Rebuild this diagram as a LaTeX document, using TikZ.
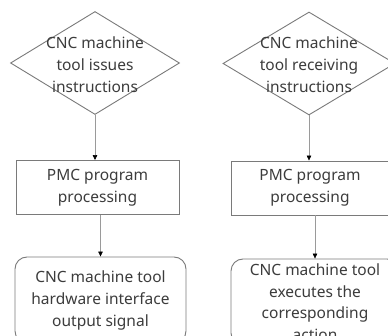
\documentclass[tikz,border=0pt]{standalone}
\usepackage{fontspec}
\setmainfont{Noto Sans}
\usetikzlibrary{shapes.geometric,arrows.meta}
\definecolor{edgegray}{HTML}{7A7A7A}
\definecolor{linkgray}{HTML}{9A9A9A}
\definecolor{inkgray}{HTML}{3C3C3C}
\tikzset{
  txt/.style={text=inkgray, align=center, inner sep=0pt,
    font=\fontsize{15.5}{22}\selectfont},
  decision/.style={draw=edgegray, line width=0.9pt, shape=diamond,
    inner sep=0pt, minimum width=#1, minimum height=103pt},
  procbox/.style={draw=edgegray, line width=0.9pt, rectangle,
    minimum width=#1, minimum height=54pt, txt},
  endbox/.style={draw=edgegray, line width=0.9pt, rectangle,
    rounded corners=12pt, minimum width=#1, minimum height=86pt, txt},
  link/.style={draw=linkgray, line width=0.6pt,
    -{Triangle[length=5pt,width=4.5pt,fill=black,color=black]}}
}
\begin{document}
\begin{tikzpicture}[x=1pt,y=-1pt]
  \useasboundingbox (0,0) rectangle (388,336);
  \fill[white] (0,0) rectangle (388,336);
  \clip (0,0) rectangle (388,336);

  % left column: sending side
  \node[decision=169pt] (d1) at (95,63) {};
  \node[txt] (d1t) at (95,65) {CNC machine\\tool issues\\instructions};
  \node[procbox=163pt] (p1) at (97.5,187.5) {PMC program\\processing};
  \node[endbox=171pt] (e1) at (100.5,300) {CNC machine tool\\hardware interface\\output signal};

  % right column: receiving side
  \node[decision=172pt] (d2) at (309,63.5) {};
  \node[txt] (d2t) at (309,65) {CNC machine\\tool receiving\\instructions};
  \node[procbox=158pt] (p2) at (310,188) {PMC program\\processing};
  \node[endbox=168pt, font=\fontsize{15.5}{21.5}\selectfont] (e2) at (315,302) {CNC machine tool\\executes the\\corresponding\\action};

  % connectors
  \draw[link] (d1.south) -- (d1.south |- p1.north);
  \draw[link] (e1.north |- p1.south) -- (e1.north);
  \draw[link] (d2.south) -- (d2.south |- p2.north);
  \draw[link] (e2.north |- p2.south) -- (e2.north);
\end{tikzpicture}
\end{document}
